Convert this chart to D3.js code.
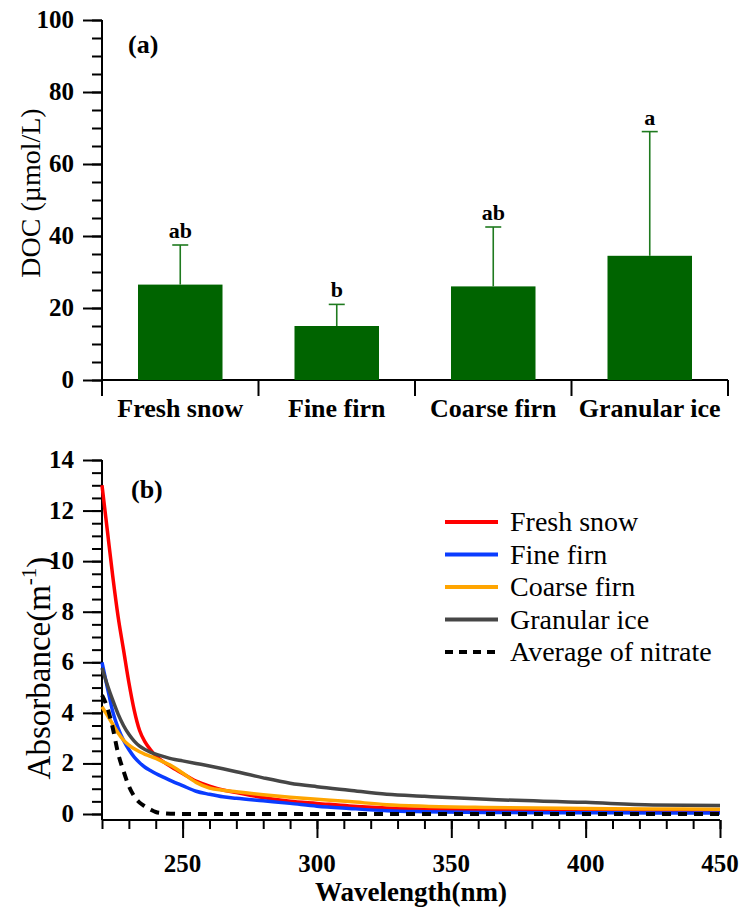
<!DOCTYPE html>
<html>
<head>
<meta charset="UTF-8">
<script src="https://d3js.org/d3.v7.min.js"></script>
</head>
<body style="margin:0">
<script>
    // ---- panel (a): DOC bars ----
    const categories = ["Fresh snow", "Fine firn", "Coarse firn", "Granular ice"];
    const docMean = [26.5, 15, 26, 34.5];
    const docError = [11, 6, 16.5, 34.5];
    const sigLetters = ["ab", "b", "ab", "a"];
    const yTicksA = [0, 20, 40, 60, 80, 100];

    // ---- panel (b): absorbance spectra ----
    const wavelengths = [220, 222, 224, 226, 228, 230, 232, 234, 236, 238, 240, 243, 246, 250, 255, 260, 265, 270, 280, 290, 300, 312, 326, 340, 363, 400, 425, 450];
    const freshSnow   = [13.0, 11.2, 9.4, 7.8, 6.5, 5.2, 4.1, 3.3, 2.85, 2.55, 2.3, 2.05, 1.85, 1.6, 1.3, 1.1, 0.95, 0.85, 0.65, 0.5, 0.42, 0.32, 0.24, 0.19, 0.16, 0.12, 0.11, 0.1];
    const fineFirn    = [6.0, 5.0, 4.05, 3.4, 2.92, 2.55, 2.25, 2.03, 1.85, 1.72, 1.6, 1.45, 1.3, 1.12, 0.9, 0.78, 0.68, 0.62, 0.52, 0.42, 0.31, 0.22, 0.13, 0.09, 0.06, 0.05, 0.04, 0.04];
    const coarseFirn  = [4.24, 3.9, 3.55, 3.2, 2.92, 2.72, 2.58, 2.46, 2.36, 2.28, 2.2, 2.05, 1.9, 1.62, 1.25, 1.03, 0.94, 0.88, 0.76, 0.66, 0.58, 0.49, 0.37, 0.31, 0.26, 0.22, 0.2, 0.19];
    const granularIce = [5.77, 5.1, 4.5, 3.95, 3.5, 3.15, 2.88, 2.68, 2.55, 2.45, 2.37, 2.27, 2.18, 2.1, 2.0, 1.9, 1.79, 1.67, 1.43, 1.22, 1.08, 0.94, 0.78, 0.7, 0.58, 0.46, 0.36, 0.34];
    const nitrateAvg  = [4.7, 4.2, 3.4, 2.4, 1.7, 1.1, 0.7, 0.45, 0.3, 0.18, 0.08, 0.03, 0.01, 0, 0, 0, 0, 0, 0, 0, 0, 0, 0, 0, 0, 0, 0, 0];
    const yTicksB = [0, 2, 4, 6, 8, 10, 12, 14];
    const xTicksB = [250, 300, 350, 400, 450];

    const seriesB = [
        {label: "Fresh snow", values: freshSnow, color: "#ff0000", dash: null},
        {label: "Fine firn", values: fineFirn, color: "#0a3cff", dash: null},
        {label: "Coarse firn", values: coarseFirn, color: "#ffa500", dash: null},
        {label: "Granular ice", values: granularIce, color: "#464646", dash: null},
        {label: "Average of nitrate", values: nitrateAvg, color: "#000000", dash: "9,7"}
    ];

    const width = 744, height = 915;
    const serif = '"Liberation Serif", "Times New Roman", Times, serif';
    const svg = d3.select("body").append("svg")
        .attr("width", width)
        .attr("height", height)
        .style("display", "block");

    // text helper: every label gets its serif face inline
    function addText(parent, size, bold) {
        return parent.append("text")
            .attr("font-family", serif)
            .style("font-family", serif)
            .style("font-size", size + "px")
            .style("font-weight", bold ? "bold" : "normal");
    }

    // ticks only; labels are written by hand below
    function tickAxis(g) {
        g.select(".domain").remove();
        g.selectAll(".tick text").remove();
        g.selectAll(".tick line").attr("stroke", "#000").attr("stroke-width", 2);
    }

    // ================= panel (a) =================
    const a = {left: 102, right: 728, top: 20, bottom: 380};

    const xA = d3.scaleBand()
        .domain(categories)
        .range([a.left, a.right])
        .padding(0);
    const barW = xA.bandwidth() * 0.54;

    const yA = d3.scaleLinear().domain([0, 100]).range([a.bottom, a.top]);

    svg.append("g")
        .attr("transform", `translate(${a.left},0)`)
        .call(d3.axisLeft(yA).tickValues(d3.range(0, 101, 5)).tickSize(10))
        .call(tickAxis);
    svg.append("g")
        .attr("transform", `translate(${a.left},0)`)
        .call(d3.axisLeft(yA).tickValues(yTicksA).tickSize(19))
        .call(tickAxis);
    yTicksA.forEach(t => {
        addText(svg, 25, true)
            .attr("x", a.left - 28).attr("y", yA(t) + 8)
            .attr("text-anchor", "end")
            .text(t);
    });

    // axis lines
    svg.append("line")
        .attr("x1", a.left).attr("x2", a.left)
        .attr("y1", yA(100)).attr("y2", a.bottom + 16)
        .attr("stroke", "#000").attr("stroke-width", 2);
    svg.append("line")
        .attr("x1", a.left).attr("x2", a.right)
        .attr("y1", a.bottom).attr("y2", a.bottom)
        .attr("stroke", "#000").attr("stroke-width", 2);

    // category separators
    svg.selectAll(".sep")
        .data(categories)
        .enter().append("line")
        .attr("x1", d => xA(d) + xA.step())
        .attr("x2", d => xA(d) + xA.step())
        .attr("y1", a.bottom).attr("y2", a.bottom + 16)
        .attr("stroke", "#000").attr("stroke-width", 2);

    // category labels
    categories.forEach(c => {
        addText(svg, 26, true)
            .attr("x", xA(c) + xA.bandwidth() / 2).attr("y", a.bottom + 37)
            .attr("text-anchor", "middle")
            .text(c);
    });

    // bars
    svg.selectAll(".bar")
        .data(categories)
        .enter().append("rect")
        .attr("class", "bar")
        .attr("x", d => xA(d) + (xA.bandwidth() - barW) / 2)
        .attr("width", barW)
        .attr("y", (d, i) => yA(docMean[i]))
        .attr("height", (d, i) => yA(0) - yA(docMean[i]))
        .attr("fill", "#006400");

    // error bars
    const err = svg.selectAll(".err")
        .data(categories)
        .enter().append("g")
        .attr("stroke", "#1f7a1f")
        .attr("stroke-width", 1.6);
    err.append("line")
        .attr("x1", d => xA(d) + xA.bandwidth() / 2)
        .attr("x2", d => xA(d) + xA.bandwidth() / 2)
        .attr("y1", (d, i) => yA(docMean[i]))
        .attr("y2", (d, i) => yA(docMean[i] + docError[i]));
    err.append("line")
        .attr("x1", d => xA(d) + xA.bandwidth() / 2 - 8)
        .attr("x2", d => xA(d) + xA.bandwidth() / 2 + 8)
        .attr("y1", (d, i) => yA(docMean[i] + docError[i]))
        .attr("y2", (d, i) => yA(docMean[i] + docError[i]));

    // significance letters
    categories.forEach((c, i) => {
        addText(svg, 22, true)
            .attr("x", xA(c) + xA.bandwidth() / 2)
            .attr("y", yA(docMean[i] + docError[i]) - 7)
            .attr("text-anchor", "middle")
            .text(sigLetters[i]);
    });

    addText(svg, 26, true).attr("x", 128).attr("y", 53).text("(a)");

    addText(svg, 28, false)
        .attr("transform", "translate(40,193) rotate(-90)")
        .attr("text-anchor", "middle")
        .text("DOC (\u00b5mol/L)");

    // ================= panel (b) =================
    const b = {left: 102, right: 720, top: 460, bottom: 814, axisY: 820};

    const xB = d3.scaleLinear().domain([220, 450]).range([b.left, b.right]);
    const yB = d3.scaleLinear().domain([0, 14]).range([b.bottom, b.top]);

    svg.append("g")
        .attr("transform", `translate(${b.left},0)`)
        .call(d3.axisLeft(yB).tickValues(d3.range(0, 14.01, 0.5)).tickSize(10))
        .call(tickAxis);
    svg.append("g")
        .attr("transform", `translate(${b.left},0)`)
        .call(d3.axisLeft(yB).tickValues(yTicksB).tickSize(19))
        .call(tickAxis);
    yTicksB.forEach(t => {
        addText(svg, 25, true)
            .attr("x", b.left - 28).attr("y", yB(t) + 8)
            .attr("text-anchor", "end")
            .text(t);
    });

    svg.append("g")
        .attr("transform", `translate(0,${b.axisY})`)
        .call(d3.axisBottom(xB).tickValues(d3.range(220, 451, 10)).tickSize(9))
        .call(tickAxis);
    svg.append("g")
        .attr("transform", `translate(0,${b.axisY})`)
        .call(d3.axisBottom(xB).tickValues(xTicksB).tickSize(18))
        .call(tickAxis);
    xTicksB.forEach(t => {
        addText(svg, 25, true)
            .attr("x", xB(t)).attr("y", b.axisY + 52)
            .attr("text-anchor", "middle")
            .text(t);
    });

    svg.append("line")
        .attr("x1", b.left).attr("x2", b.left)
        .attr("y1", yB(14)).attr("y2", b.axisY)
        .attr("stroke", "#000").attr("stroke-width", 2);
    svg.append("line")
        .attr("x1", b.left).attr("x2", b.right)
        .attr("y1", b.axisY).attr("y2", b.axisY)
        .attr("stroke", "#000").attr("stroke-width", 2);

    const line = d3.line()
        .x(d => xB(d[0]))
        .y(d => yB(d[1]))
        .curve(d3.curveMonotoneX);

    svg.selectAll(".spec")
        .data(seriesB)
        .enter().append("path")
        .attr("d", s => line(wavelengths.map((w, i) => [w, s.values[i]])))
        .attr("fill", "none")
        .attr("stroke", s => s.color)
        .attr("stroke-width", s => s.dash ? 4 : 3.5)
        .attr("stroke-dasharray", s => s.dash);

    addText(svg, 26, true).attr("x", 131).attr("y", 498).text("(b)");

    const yLab = addText(svg, 33, false)
        .attr("transform", "translate(50,668) rotate(-90)")
        .attr("text-anchor", "middle");
    yLab.append("tspan").text("Absorbance(m");
    yLab.append("tspan").attr("dy", -14).style("font-size", "21px").text("-1");
    yLab.append("tspan").attr("dy", 14).text(")");

    addText(svg, 27, true)
        .attr("x", (b.left + b.right) / 2).attr("y", 901)
        .attr("text-anchor", "middle")
        .text("Wavelength(nm)");

    // legend
    seriesB.forEach((s, i) => {
        const row = svg.append("g")
            .attr("transform", `translate(445,${522 + i * 32.5})`);
        row.append("line")
            .attr("x1", 0).attr("x2", 53)
            .attr("stroke", s.color)
            .attr("stroke-width", 4)
            .attr("stroke-dasharray", s.dash ? "8,6" : null);
        addText(row, 28, false).attr("x", 65).attr("y", 9).text(s.label);
    });
</script>
</body>
</html>
